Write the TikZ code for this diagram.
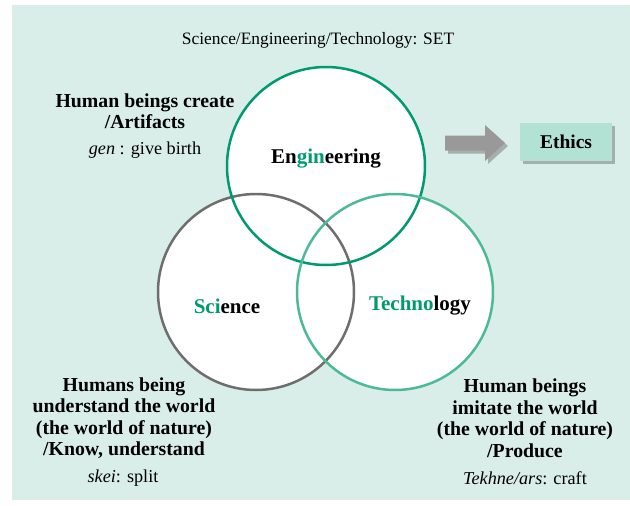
\documentclass[tikz,border=0pt]{standalone}
\usepackage{fontspec}
\setmainfont{Liberation Serif}
\usepackage{xcolor}
\usetikzlibrary{shadows}
\definecolor{bgmint}{HTML}{D9EEE8}
\definecolor{enggreen}{HTML}{009A70}
\definecolor{scigray}{HTML}{6E6E6E}
\definecolor{techgreen}{HTML}{4DBA96}
\definecolor{ethicsfill}{HTML}{B2E2D3}

\begin{document}
\begin{tikzpicture}[x=1pt, y=-1pt,
    boldlbl/.style={font=\fontsize{19.8}{21.5}\selectfont\bfseries, align=center, inner sep=0pt},
    plainlbl/.style={font=\fontsize{18.2}{21}\selectfont, inner sep=0pt},
    setlbl/.style={font=\fontsize{21}{24}\selectfont\bfseries, inner sep=0pt},
    ring/.style={line width=2.5pt}]
        % Background
        \useasboundingbox (0,0) rectangle (630,506);
        \fill[bgmint] (12,5) rectangle (630,500);

        % Circles: white fills first, then the rings on top
        \foreach \cx/\cy/\r in {326/166/99, 256/292/98, 395/292/98}
        {
            \fill[white] (\cx,\cy) circle[radius=\r];
        }
        \draw[ring, scigray] (256,292) circle[radius=98];
        \draw[ring, enggreen] (326,166) circle[radius=99];
        \draw[ring, techgreen] (395,292) circle[radius=98];

        % Title
        \node[plainlbl, font=\fontsize{17.4}{20}\selectfont] (title) at (318,40) {Science/Engineering/Technology: SET};

        % Circle labels
        \node[setlbl] (eng) at (326,159) {En\textcolor{enggreen}{gin}eering};
        \node[setlbl] (sci) at (227,306) {\textcolor{enggreen}{Sci}ence};
        \node[setlbl] (tech) at (420,306) {\textcolor{enggreen}{Techno}logy};

        % Side texts
        \node[boldlbl] (create) at (145,111) {Human beings create\\/Artifacts};
        \node[plainlbl] (gen) at (145,150) {\textit{gen} : give birth};
        \node[boldlbl] (know) at (124,418) {Humans being\\understand the world\\(the world of nature)\\/Know, understand};
        \node[plainlbl] (skei) at (123,478) {\textit{skei}: split};
        \node[boldlbl] (produce) at (525,418) {Human beings\\imitate the world\\(the world of nature)\\/Produce};
        \node[plainlbl] (tekhne) at (525,478) {\textit{Tekhne/ars}: craft};

        % Arrow and Ethics box
        \fill[black!40, drop shadow={shadow xshift=3pt, shadow yshift=-3pt, fill=black!55}]
            (445,135.5) -- (485,135.5) -- (485,125) -- (505,143) -- (485,161)
            -- (485,150.5) -- (445,150.5) -- cycle;
        \node[fill=ethicsfill, minimum width=92pt, minimum height=38pt,
              font=\fontsize{19.5}{22}\selectfont\bfseries,
              drop shadow={shadow xshift=3pt, shadow yshift=-3pt, fill=black!55}]
            (ethics) at (566,142) {Ethics};
\end{tikzpicture}
\end{document}
